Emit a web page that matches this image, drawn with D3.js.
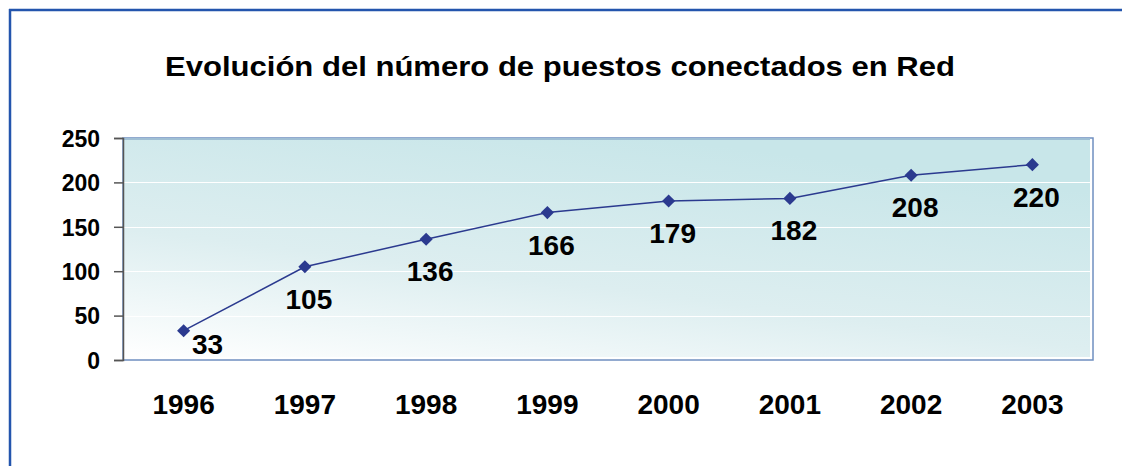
<!DOCTYPE html>
<html>
<head>
<meta charset="utf-8">
<script src="https://cdn.jsdelivr.net/npm/d3@7"></script>
<style>
  body { margin: 0; background: #fff; }
  svg { display: block; }
</style>
</head>
<body>
<script>
// chart data
const years = ['1996', '1997', '1998', '1999', '2000', '2001', '2002', '2003'];
const puestos = [33, 105, 136, 166, 179, 182, 208, 220];
const yTicks = [0, 50, 100, 150, 200, 250];
const title = 'Evolución del número de puestos conectados en Red';

const width = 1122;
const height = 466;
const plot = { left: 123, right: 1093, top: 138, bottom: 360 };
const font = 'Arial, "Liberation Sans", sans-serif';

const svg = d3.select('body')
  .append('svg')
  .attr('width', width)
  .attr('height', height)
  .style('font-family', font);

// background gradient of the plot area
const defs = svg.append('defs');
const grad = defs.append('linearGradient')
  .attr('id', 'plotBg')
  .attr('x1', '0%').attr('y1', '100%')
  .attr('x2', '55%').attr('y2', '0%');
grad.append('stop').attr('offset', '0%').attr('stop-color', '#ffffff');
grad.append('stop').attr('offset', '45%').attr('stop-color', '#ddeef0');
grad.append('stop').attr('offset', '100%').attr('stop-color', '#c8e6e9');

// outer blue frame (top and left only)
svg.append('line')
  .attr('x1', 9).attr('y1', 10).attr('x2', width).attr('y2', 10)
  .attr('stroke', '#2355ad').attr('stroke-width', 2.5);
svg.append('line')
  .attr('x1', 10).attr('y1', 9).attr('x2', 10).attr('y2', height)
  .attr('stroke', '#2355ad').attr('stroke-width', 2.5);

// title (stretched a bit wide like the original)
svg.append('text')
  .text(title)
  .attr('x', 165)
  .attr('y', 76)
  .attr('textLength', 790)
  .attr('lengthAdjust', 'spacingAndGlyphs')
  .style('font-size', '28px')
  .style('font-weight', 'bold')
  .attr('fill', '#000');

// scales
const x = d3.scaleBand()
  .domain(years)
  .range([plot.left, plot.right]);

const y = d3.scaleLinear()
  .domain([0, 250])
  .range([plot.bottom, plot.top]);

// plot frame
svg.append('rect')
  .attr('x', plot.left)
  .attr('y', plot.top)
  .attr('width', plot.right - plot.left)
  .attr('height', plot.bottom - plot.top)
  .attr('fill', '#fff')
  .attr('stroke', '#6f8fc0')
  .attr('stroke-width', 1.5);

svg.append('rect')
  .attr('x', plot.left)
  .attr('y', plot.top)
  .attr('width', plot.right - plot.left - 3)
  .attr('height', plot.bottom - plot.top - 3)
  .attr('fill', 'url(#plotBg)');

svg.append('line')
  .attr('x1', plot.left).attr('x2', plot.right - 3)
  .attr('y1', plot.top + 1).attr('y2', plot.top + 1)
  .attr('stroke', '#8fb0cc').attr('stroke-width', 1.5);

// gridlines
svg.selectAll('.grid')
  .data(yTicks.filter(d => d > 0 && d < 250))
  .join('line')
  .attr('class', 'grid')
  .attr('x1', plot.left)
  .attr('x2', plot.right - 3)
  .attr('y1', d => Math.round(y(d)) + 0.5)
  .attr('y2', d => Math.round(y(d)) + 0.5)
  .attr('stroke', '#ffffff')
  .attr('stroke-width', 1);

// y axis
const yAxis = svg.append('g')
  .attr('transform', `translate(${plot.left},0)`)
  .call(d3.axisLeft(y).tickValues(yTicks).tickSize(9).tickPadding(14));
yAxis.select('.domain').attr('stroke', '#555').attr('stroke-width', 1.5);
yAxis.selectAll('.tick line').attr('stroke', '#555').attr('stroke-width', 1.5);
yAxis.selectAll('.tick text')
  .attr('fill', '#000')
  .attr('dy', '0.36em')
  .style('font-family', font)
  .style('font-size', '23px')
  .style('font-weight', 'bold');

// x labels
svg.selectAll('.xlabel')
  .data(years)
  .join('text')
  .attr('class', 'xlabel')
  .text(d => d)
  .attr('x', d => x(d) + x.bandwidth() / 2)
  .attr('y', 414)
  .attr('text-anchor', 'middle')
  .style('font-size', '28px')
  .style('font-weight', 'bold')
  .attr('fill', '#000');

// line
const pts = years.map((yr, i) => ({ year: yr, value: puestos[i] }));
const line = d3.line()
  .x(d => x(d.year) + x.bandwidth() / 2)
  .y(d => y(d.value));

svg.append('path')
  .datum(pts)
  .attr('d', line)
  .attr('fill', 'none')
  .attr('stroke', '#2b3a8f')
  .attr('stroke-width', 1.5);

// diamond markers
svg.selectAll('.marker')
  .data(pts)
  .join('path')
  .attr('class', 'marker')
  .attr('d', d3.symbol().type(d3.symbolDiamond2).size(110))
  .attr('transform', d => `translate(${x(d.year) + x.bandwidth() / 2},${y(d.value)})`)
  .attr('fill', '#2b3a8f');

// data labels below the points
svg.selectAll('.dlabel')
  .data(pts)
  .join('text')
  .attr('class', 'dlabel')
  .text(d => d.value)
  .attr('x', d => {
    const cx = x(d.year) + x.bandwidth() / 2;
    // label pushed to the right when it would fall below the plot
    return y(d.value) + 42 > plot.bottom ? cx + 24 : cx + 4;
  })
  .attr('y', d => Math.min(y(d.value) + 42, plot.bottom - 6))
  .attr('text-anchor', 'middle')
  .style('font-size', '28px')
  .style('font-weight', 'bold')
  .attr('fill', '#000');
</script>
</body>
</html>
